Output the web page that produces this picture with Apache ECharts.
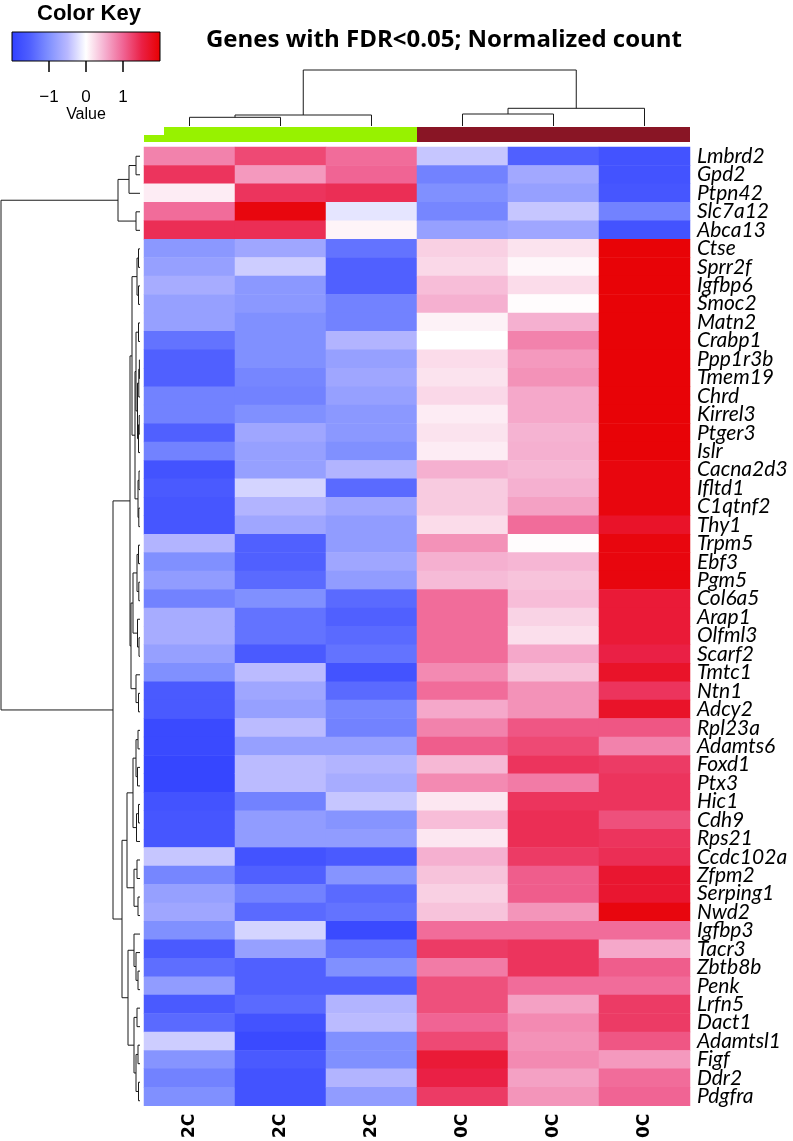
<!DOCTYPE html>
<html><head><meta charset="utf-8">
<script src="https://cdn.jsdelivr.net/npm/echarts@6/dist/echarts.min.js"></script>
<style>html,body{margin:0;padding:0;background:#fff}#c{width:793px;height:1141px}</style>
</head><body><div id="c"></div>
<script>
// ---------------- DATA ----------------
const genes = ['Lmbrd2','Gpd2','Ptpn42','Slc7a12','Abca13','Ctse','Sprr2f','Igfbp6','Smoc2','Matn2',
  'Crabp1','Ppp1r3b','Tmem19','Chrd','Kirrel3','Ptger3','Islr','Cacna2d3','Ifltd1','C1qtnf2',
  'Thy1','Trpm5','Ebf3','Pgm5','Col6a5','Arap1','Olfml3','Scarf2','Tmtc1','Ntn1',
  'Adcy2','Rpl23a','Adamts6','Foxd1','Ptx3','Hic1','Cdh9','Rps21','Ccdc102a','Zfpm2',
  'Serping1','Nwd2','Igfbp3','Tacr3','Zbtb8b','Penk','Lrfn5','Dact1','Adamtsl1','Figf',
  'Ddr2','Pdgfra'];
const colLabels = ['2C','2C','2C','0C','0C','0C'];
const groupColors = {'2C':'#97F200','0C':'#891525'};
// row-scaled normalized counts, one array per sample column (rows in gene order)
const sample1 = [0.8,1.35,0.12,0.95,1.4, -0.9,-0.8,-0.65,-0.8,-0.8, -1.3,-1.5,-1.5,-1.15,-1.15, -1.5,-1.15,-1.7,-1.6,-1.65,
  -1.65,-0.55,-1.0,-0.85,-1.15, -0.65,-0.65,-0.8,-1.0,-1.6, -1.6,-1.85,-1.85,-1.9,-1.9, -1.7,-1.65,-1.65,-0.4,-1.1,
  -0.8,-0.72,-1.0,-1.6,-1.35, -0.85,-1.6,-1.4,-0.35,-0.95, -1.15,-1.0];
const sample2 = [1.2,0.65,1.35,1.9,1.4, -0.72,-0.35,-0.9,-0.9,-1.0, -1.0,-1.0,-1.1,-1.15,-1.0, -0.72,-0.8,-0.8,-0.3,-0.55,
  -0.72,-1.5,-1.5,-1.4,-1.0, -1.3,-1.3,-1.6,-0.48,-0.72, -0.8,-0.48,-0.8,-0.48,-0.48, -1.15,-0.85,-0.85,-1.7,-1.5,
  -1.15,-1.4,-0.3,-0.8,-1.5, -1.5,-1.4,-1.7,-1.85,-1.6, -1.7,-1.7];
const sample3 = [0.95,1.0,1.4,-0.18,0.07, -1.3,-1.5,-1.5,-1.15,-1.15, -0.55,-0.8,-0.72,-0.8,-0.9, -0.9,-1.0,-0.55,-1.4,-0.72,
  -0.85,-0.85,-0.72,-0.85,-1.4, -1.5,-1.4,-1.3,-1.7,-1.4, -1.1,-1.15,-0.8,-0.55,-0.65, -0.4,-0.95,-0.85,-1.6,-0.95,
  -1.4,-1.3,-1.85,-1.3,-1.0, -1.5,-0.55,-0.48,-1.0,-1.0, -0.55,-0.85];
const sample4 = [-0.4,-1.15,-1.0,-1.1,-0.8, 0.3,0.25,0.42,0.5,0.08, 0.0,0.22,0.18,0.25,0.12, 0.18,0.12,0.5,0.33,0.33,
  0.22,0.7,0.5,0.43,0.95, 0.95,0.95,0.95,0.75,0.95, 0.55,0.8,1.05,0.45,0.75, 0.15,0.42,0.15,0.5,0.38,
  0.3,0.38,0.95,1.3,0.85, 1.15,1.15,1.0,1.2,1.6, 1.5,1.3];
const sample5 = [-1.5,-0.7,-0.8,-0.4,-0.72, 0.18,0.05,0.22,0.02,0.5, 0.8,0.65,0.7,0.55,0.55, 0.48,0.5,0.45,0.5,0.6,
  0.95,0.02,0.46,0.38,0.42, 0.28,0.2,0.55,0.4,0.7, 0.7,1.1,1.2,1.35,0.85, 1.35,1.4,1.4,1.3,1.05,
  1.05,0.68,0.95,1.35,1.35, 0.95,0.6,0.75,0.7,0.75, 0.6,0.68];
const sample6 = [-1.7,-1.7,-1.65,-1.15,-1.7, 1.95,1.95,1.95,1.95,1.95, 1.95,1.95,1.95,1.95,1.95, 1.95,1.95,1.9,1.9,1.9,
  1.7,1.9,1.9,1.9,1.6, 1.6,1.6,1.5,1.7,1.35, 1.7,1.1,0.8,1.3,1.35, 1.35,1.15,1.35,1.4,1.65,
  1.65,1.9,0.95,0.55,1.05, 0.95,1.3,1.3,1.1,0.65, 0.95,1.0];
// colour key
const keyRange = [-2, 2];
const keyTicks = [-1, 0, 1];
const keyColors = ['#3040FF','#5060FF','#8090FF','#B8B8FF','#FFFFFF','#F5B0D0','#F06494','#EA2045','#E80000'];
// dendrograms: node = [height, left, right]; leaf = index
const rowTree = [139,
  [22, [11, [4, 0, 1], 2], [4, 3, 4]],
  [27,
    [10,
      [8,
        [3, [1.5, 5, 6], [1.5, 7, 8]],
        [5, [4, [1.5, 9, 10], [2.5, [1.2, [0.6, 11, 12], 13], [1.5, [0.8, 14, 15], 16]]],
            [2, [1, 17, 18], [1.2, 19, 20]]]
      ],
      [9,
        [7, [3, [1.5, 21, 22], [1.2, 23, 24]], [2.5, 25, [1, 26, 27]]],
        [4, 28, [1.5, 29, 30]]
      ]
    ],
    [18,
      [13,
        [7, [4, [2, 31, 32], [2.5, 33, 34]], [3.5, [1.5, 35, 36], 37]],
        [6, [3, 38, 39], [2, 40, 41]]
      ],
      [12,
        [6, 42, [4, 43, [2, 44, 45]]],
        [6, [3, 46, 47], [4, [2, 48, 49], [1.5, 50, 51]]]
      ]
    ]
  ]
];
const colTree = [56, [11, [8.7, 0, 1], 2], [17.7, [12, 3, 4], 5]];

// ---------------- BUILD ----------------
const samples = [sample1, sample2, sample3, sample4, sample5, sample6];
const heatData = [];
samples.forEach((col, c) => col.forEach((v, r) => heatData.push([c, r, v])));

function layoutTree(node, segs) {
  if (typeof node === 'number') return {pos: node + 0.5, h: 0};
  const h = node[0];
  const a = layoutTree(node[1], segs), b = layoutTree(node[2], segs);
  segs.push([a.pos, h, b.pos, h]);
  segs.push([a.pos, a.h, a.pos, h]);
  segs.push([b.pos, b.h, b.pos, h]);
  return {pos: (a.pos + b.pos) / 2, h: h};
}
const rowSegs = []; layoutTree(rowTree, rowSegs);
const colSegs = []; layoutTree(colTree, colSegs);

const lineStyle = {stroke: '#1a1a1a', lineWidth: 1};
const chart = echarts.init(document.getElementById('c'), null, {renderer: 'canvas'});
const gradStops = keyColors.map((c, i) => ({offset: i / (keyColors.length - 1), color: c}));

chart.setOption({
  animation: false,
  backgroundColor: '#fff',
  title: [{text: 'Color Key', left: 32, top: -2,
    textStyle: {fontFamily: 'Liberation Sans', fontWeight: 'bold', fontSize: 22, color: '#000'}}],
  graphic: [
    {type: 'text', x: 444, y: 40, style: {text: 'Genes with FDR<0.05; Normalized count',
      font: 'bold 24px "Open Sans"', fill: '#000', align: 'center', verticalAlign: 'middle'}},
    {type: 'rect', shape: {x: 143, y: 126, width: 21, height: 9}, style: {fill: '#fff'}, z: 100}
  ],
  grid: [
    {left: 144, top: 147, width: 546, height: 963},
    {left: 1, top: 147, width: 139, height: 963},
    {left: 144, top: 70, width: 546, height: 56},
    {left: 144, top: 127, width: 546, height: 15},
    {left: 12, top: 32, width: 148, height: 29}
  ],
  xAxis: [
    {type: 'category', gridIndex: 0, data: colLabels, position: 'bottom',
      axisLine: {show: false}, axisTick: {show: false},
      axisLabel: {rotate: 90, margin: 8, fontFamily: 'DejaVu Sans', fontWeight: 'bold', fontSize: 17, color: '#000', interval: 0}},
    {type: 'value', gridIndex: 1, min: 0, max: 139, inverse: true, show: false},
    {type: 'value', gridIndex: 2, min: 0, max: 6, show: false},
    {type: 'value', gridIndex: 3, min: 0, max: 6, show: false},
    {type: 'value', gridIndex: 4, min: keyRange[0], max: keyRange[1], position: 'bottom',
      axisLine: {show: false}, splitLine: {show: false},
      axisTick: {show: true, customValues: keyTicks, length: 11, lineStyle: {color: '#000', width: 1.5}},
      axisLabel: {customValues: keyTicks, margin: 28, fontFamily: 'Liberation Sans', fontSize: 17, color: '#000',
        formatter: v => (v < 0 ? '\u2212' + Math.abs(v) : String(v))},
      name: 'Value', nameLocation: 'middle', nameGap: 45,
      nameTextStyle: {fontFamily: 'Liberation Sans', fontSize: 16, color: '#000'}}
  ],
  yAxis: [
    {type: 'category', gridIndex: 0, data: genes, inverse: true, position: 'right',
      axisLine: {show: false}, axisTick: {show: false},
      axisLabel: {interval: 0, margin: 7, fontFamily: 'Lato', fontStyle: 'italic', fontSize: 21, color: '#000'}},
    {type: 'value', gridIndex: 1, min: 0, max: genes.length, inverse: true, show: false},
    {type: 'value', gridIndex: 2, min: 0, max: 56, show: false},
    {type: 'value', gridIndex: 3, min: 0, max: 1, show: false},
    {type: 'value', gridIndex: 4, min: 0, max: 1, show: false}
  ],
  visualMap: {type: 'continuous', show: false, min: keyRange[0], max: keyRange[1], seriesIndex: 0,
    inRange: {color: keyColors}},
  series: [
    {type: 'heatmap', xAxisIndex: 0, yAxisIndex: 0, data: heatData, progressive: 0,
      emphasis: {disabled: true}, itemStyle: {borderWidth: 0}},
    {type: 'custom', xAxisIndex: 1, yAxisIndex: 1, data: rowSegs, silent: true,
      renderItem: (p, api) => {
        const a = api.coord([api.value(1), api.value(0)]);
        const b = api.coord([api.value(3), api.value(2)]);
        return {type: 'line', shape: {x1: a[0], y1: a[1], x2: b[0], y2: b[1]}, style: lineStyle};
      }},
    {type: 'custom', xAxisIndex: 2, yAxisIndex: 2, data: colSegs, silent: true,
      renderItem: (p, api) => {
        const a = api.coord([api.value(0), api.value(1)]);
        const b = api.coord([api.value(2), api.value(3)]);
        return {type: 'line', shape: {x1: a[0], y1: a[1], x2: b[0], y2: b[1]}, style: lineStyle};
      }},
    {type: 'custom', xAxisIndex: 3, yAxisIndex: 3, data: colLabels.map((g, i) => [i]), silent: true,
      renderItem: (p, api) => {
        const i = api.value(0);
        const a = api.coord([i, 1]), b = api.coord([i + 1, 0]);
        return {type: 'rect', shape: {x: a[0], y: a[1], width: b[0] - a[0], height: b[1] - a[1]},
          style: {fill: groupColors[colLabels[p.dataIndex]]}};
      }},
    {type: 'custom', xAxisIndex: 4, yAxisIndex: 4, data: [[keyRange[0], keyRange[1]]], silent: true,
      renderItem: (p, api) => {
        const a = api.coord([api.value(0), 1]), b = api.coord([api.value(1), 0]);
        return {type: 'rect', shape: {x: a[0], y: a[1], width: b[0] - a[0], height: b[1] - a[1]},
          style: {fill: new echarts.graphic.LinearGradient(0, 0, 1, 0, gradStops), stroke: '#000', lineWidth: 1}};
      }}
  ]
});
</script></body></html>
